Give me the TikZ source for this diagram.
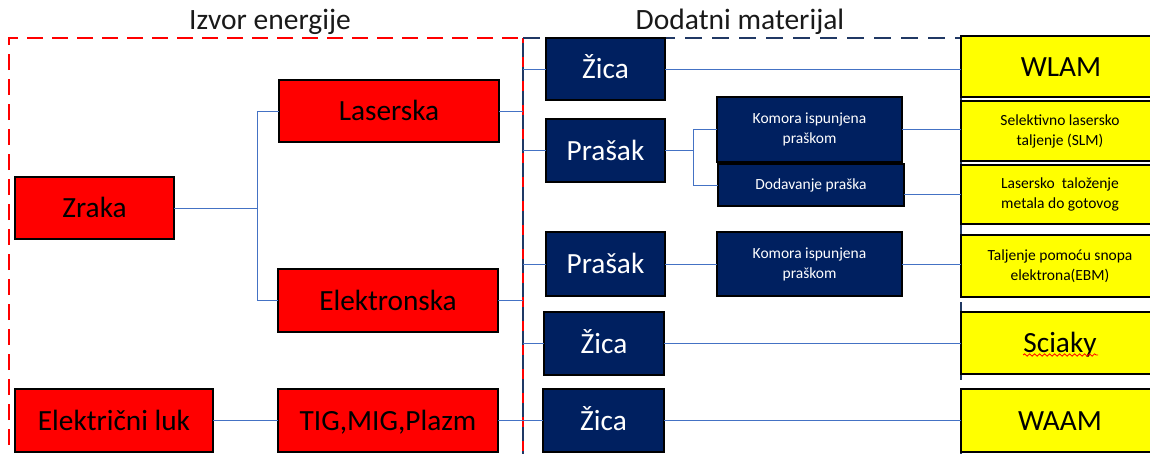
\documentclass[tikz,border=0pt]{standalone}
\usepackage{fontspec}
\setmainfont{Carlito}
\usetikzlibrary{decorations.pathmorphing}
\definecolor{navyfill}{HTML}{002060}
\definecolor{navyline}{HTML}{203864}
\definecolor{connblue}{HTML}{4472C4}
\definecolor{redfill}{HTML}{FF0000}
\definecolor{yelfill}{HTML}{FFFF00}
\tikzset{
  box/.style={draw=black, line width=2pt, inner sep=0pt, outer sep=0pt, align=center},
  bigtxt/.style={font=\fontsize{29.3}{34}\selectfont, text height=19pt, text depth=0pt},
  smalltxt/.style={font=\fontsize{15.5}{20}\selectfont, align=center},
  redbox/.style={box, fill=redfill, text=black},
  navybox/.style={box, fill=navyfill, text=white},
  yelbox/.style={box, fill=yelfill, minimum width=240pt, anchor=west},
  conn/.style={draw=connblue, line width=1pt},
  title/.style={font=\fontsize{29.5}{34}\selectfont, anchor=base, text=black!90},
}
\begin{document}
\begin{tikzpicture}[x=1pt,y=-1pt]
\useasboundingbox (0,0) rectangle (1150,453);
% group frames
\draw[navyline, line width=2.5pt] (523,38) -- (523,470);
\draw[redfill, line width=2.5pt, dash pattern=on 16pt off 9pt] (9,470) -- (9,38) -- (523,38);
\draw[redfill, line width=1.3pt, dash pattern=on 10pt off 14pt, dash phase=5pt] (523,38) -- (523,470);
\draw[navyline, line width=2.5pt, dash pattern=on 17pt off 10pt] (523,38) -- (961,38);
\draw[navyline, line width=2.5pt] (961,36) -- (961,297);
\draw[navyline, line width=2.5pt] (961,302) -- (961,380);
\draw[navyline, line width=2.5pt] (961,389) -- (961,470);
\coordinate (vL) at (523,38);
% titles
\node[title] (t1) at (270,29) {Izvor energije};
\node[title] (t2) at (740,29) {Dodatni materijal};
% red boxes
\node[redbox, bigtxt, minimum width=159pt, minimum height=62pt] (zraka) at (94.5,208) {Zraka};
\node[redbox, bigtxt, minimum width=220pt, minimum height=62pt] (laser) at (389,111) {Laserska};
\node[redbox, bigtxt, minimum width=220pt, minimum height=63pt] (elek) at (388,300.5) {Elektronska};
\node[redbox, bigtxt, minimum width=198pt, minimum height=63pt] (luk) at (114,420.5) {Električni luk};
\node[redbox, bigtxt, minimum width=220pt, minimum height=63pt] (tig) at (388,420.5) {TIG,MIG,Plazm};
% navy boxes
\node[navybox, bigtxt, minimum width=119pt, minimum height=62pt] (zica1) at (605.5,69) {Žica};
\node[navybox, bigtxt, minimum width=119pt, minimum height=63pt] (pras1) at (605.5,150.5) {Prašak};
\node[navybox, smalltxt, minimum width=185pt, minimum height=65pt] (kom1) at (809.5,129.5) {Komora ispunjena\\praškom};
\node[navybox, smalltxt, minimum width=186pt, minimum height=42pt] (dod) at (811,185) {Dodavanje praška};
\node[navybox, bigtxt, minimum width=119pt, minimum height=64pt] (pras2) at (605.5,264) {Prašak};
\node[navybox, smalltxt, minimum width=185pt, minimum height=64pt] (kom2) at (809.5,264) {Komora ispunjena\\praškom};
\node[navybox, bigtxt, minimum width=120pt, minimum height=63pt] (zica2) at (604,343.5) {Žica};
\node[navybox, bigtxt, minimum width=121pt, minimum height=63pt] (zica3) at (603.5,420.5) {Žica};
% yellow boxes (run past the right edge of the picture)
\node[yelbox, minimum height=61pt] (wlam) at (961,66.5) {};
\node[yelbox, minimum height=60pt] (slm) at (961,131) {};
\node[yelbox, minimum height=59pt] (lmd) at (961,194.5) {};
\node[yelbox, minimum height=62pt] (ebm) at (961,266) {};
\node[yelbox, minimum height=62pt] (sciaky) at (961,343) {};
\node[yelbox, minimum height=63pt] (waam) at (961,420.5) {};
\node[bigtxt] (wlamt) at (1061,66.5) {WLAM};
\node[smalltxt] (slmt) at (1060,131) {Selektivno lasersko\\taljenje (SLM)};
\node[smalltxt] (lmdt) at (1060,194.5) {Lasersko\ \ taloženje\\metala do gotovog};
\node[smalltxt] (ebmt) at (1060,266) {Taljenje pomoću snopa\\elektrona(EBM)};
\node[bigtxt] (sciakyt) at (1060,343) {Sciaky};
\node[bigtxt] (waamt) at (1060,420.5) {WAAM};
\draw[redfill, line width=0.8pt, decorate, decoration={snake, amplitude=1.2pt, segment length=5pt}] ([xshift=-37pt,yshift=-12pt]sciakyt.center) -- ([xshift=38pt,yshift=-12pt]sciakyt.center);
% connectors
\draw[conn] (laser.west) -- ++(-22,0) |- (zraka.east);
\draw[conn] (elek.west) -- ++(-21,0) |- (zraka.east);
\draw[conn] (laser.east) -- (vL |- laser.east);
\draw[conn] (elek.east) -- (vL |- elek.east);
\draw[conn] (luk.east) -- (tig.west);
\draw[conn] (tig.east) -- (zica3.west);
\draw[conn] (zica1.west) -- (vL |- zica1.west);
\draw[conn] (pras1.west) -- (vL |- pras1.west);
\draw[conn] (pras2.west) -- (vL |- pras2.west);
\draw[conn] (zica2.west) -- (vL |- zica2.west);
\draw[conn] (zica1.east) -- (wlam.west |- zica1.east);
\draw[conn] (kom1.west) -- ++(-24,0) |- (pras1.east);
\draw[conn] (dod.west) -- ++(-25,0) |- (pras1.east);
\draw[conn] (kom1.east) -- (slm.west |- kom1.east);
\draw[conn] (dod.east |- lmd.west) -- (lmd.west);
\draw[conn] (pras2.east) -- (kom2.west);
\draw[conn] (kom2.east) -- (ebm.west |- kom2.east);
\draw[conn] (zica2.east) -- (sciaky.west |- zica2.east);
\draw[conn] (zica3.east) -- (waam.west);
\end{tikzpicture}
\end{document}
